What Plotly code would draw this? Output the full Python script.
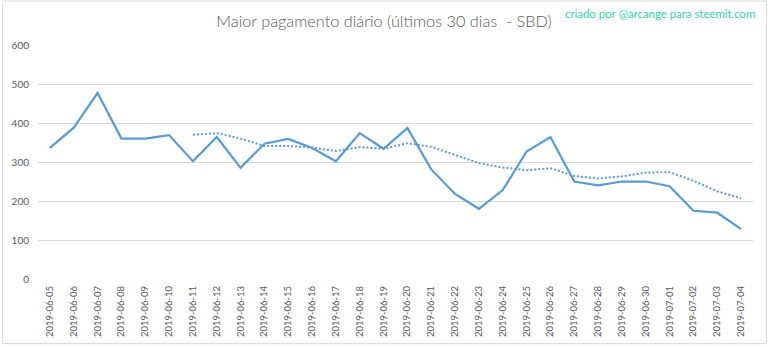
import plotly.graph_objects as go

# Daily maximum payout (SBD), last 30 days
dates = [
    "2019-06-05", "2019-06-06", "2019-06-07", "2019-06-08", "2019-06-09",
    "2019-06-10", "2019-06-11", "2019-06-12", "2019-06-13", "2019-06-14",
    "2019-06-15", "2019-06-16", "2019-06-17", "2019-06-18", "2019-06-19",
    "2019-06-20", "2019-06-21", "2019-06-22", "2019-06-23", "2019-06-24",
    "2019-06-25", "2019-06-26", "2019-06-27", "2019-06-28", "2019-06-29",
    "2019-06-30", "2019-07-01", "2019-07-02", "2019-07-03", "2019-07-04",
]
max_payout = [
    336, 388, 477, 360, 360, 369, 302, 364, 285, 347,
    359, 336, 302, 374, 334, 387, 281, 218, 180, 228,
    327, 364, 250, 240, 250, 250, 238, 175, 170, 128,
]
# 7-day moving-average trend (dotted), starts on the 7th day
trend_dates = dates[6:]
trend_values = [
    370, 374, 360, 341, 341, 337, 328, 338, 334, 348,
    339, 319, 297, 286, 279, 284, 264, 258, 263, 273,
    274, 252, 225, 207,
]
y_ticks = [0, 100, 200, 300, 400, 500, 600]

BLUE = "#5B9BD5"
GREY_TEXT = "#595959"
GRID = "#D9D9D9"

W, H = 768, 349
ML, MR, MT, MB = 36, 15, 45, 67

fig = go.Figure()
fig.add_trace(go.Scatter(
    x=dates, y=max_payout, mode="lines",
    line=dict(color=BLUE, width=2.25),
    showlegend=False,
))
fig.add_trace(go.Scatter(
    x=trend_dates, y=trend_values, mode="lines",
    line=dict(color=BLUE, width=2, dash="2px,2px"),
    showlegend=False,
))

plot_w = W - ML - MR
plot_h = H - MT - MB

fig.update_layout(
    width=W, height=H,
    margin=dict(l=ML, r=MR, t=MT, b=MB),
    paper_bgcolor="white", plot_bgcolor="white",
    font=dict(family="Lato", color=GREY_TEXT),
    title=dict(
        text="Maior pagamento diário (últimos 30 dias  - SBD)",
        x=384 / W, xref="container", xanchor="center",
        y=1 - 21.5 / H, yref="container", yanchor="middle",
        font=dict(family="Lato", size=16.3, color=GREY_TEXT, weight=300),
    ),
    xaxis=dict(
        type="category", categoryorder="array", categoryarray=dates,
        range=[-0.5, len(dates) - 0.5],
        showgrid=False, zeroline=False,
        showline=False, ticks="",
        tickangle=-90,
        tickfont=dict(family="Lato", size=9.5, color=GREY_TEXT),
        ticklabelstandoff=4,
    ),
    yaxis=dict(
        range=[0, 600], tickvals=y_ticks,
        showgrid=True, gridcolor=GRID, gridwidth=1,
        zeroline=False, showline=False, ticks="",
        tickfont=dict(family="Lato", size=10, color=GREY_TEXT),
        ticklabelstandoff=8,
    ),
    annotations=[dict(
        text="criado por @arcange para steemit.com",
        xref="paper", yref="paper",
        x=(757 - ML) / plot_w, xanchor="right",
        y=(H - MB - 13.5) / plot_h, yanchor="middle",
        showarrow=False,
        font=dict(family="Lato", size=11.4, color="#33D4AA"),
    )],
    shapes=[dict(
        type="rect", xref="paper", yref="paper",
        x0=(0.5 - ML) / plot_w, x1=(766.5 - ML) / plot_w,
        y0=(H - MB - 347.5) / plot_h, y1=(H - MB - 0.5) / plot_h,
        line=dict(color=GRID, width=1), layer="below",
    )],
)

fig.write_html("out.html")
